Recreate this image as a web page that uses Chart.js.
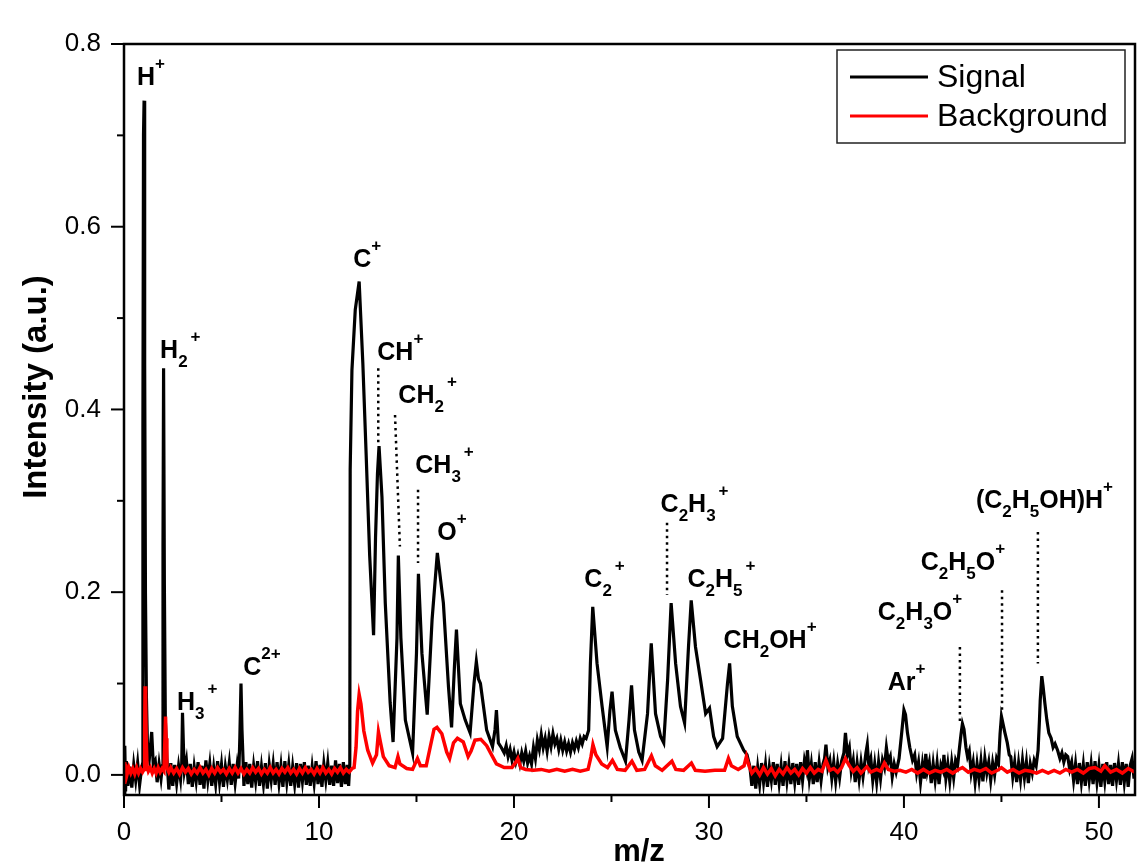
<!DOCTYPE html>
<html>
<head>
<meta charset="utf-8">
<script src="https://cdn.jsdelivr.net/npm/chart.js@4.4.1/dist/chart.umd.min.js"></script>
<style>
  html, body { margin: 0; padding: 0; background: #fff; }
  #wrap { width: 1144px; height: 866px; position: relative; }
</style>
</head>
<body>
<div id="wrap"><canvas id="chart"></canvas></div>
<script>
// ── Data (m/z, intensity) ────────────────────────────────────
const signal = [
  [0,-0.02],[0.04,0.032],[0.08,-0.018],[0.12,0.015],[0.2,-0.012],[0.3,0.009],[0.4,-0.014],[0.5,0.011],[0.6,-0.006],[0.7,0.013],[0.8,-0.011],[0.9,0.007],
  [0.95,0.012],[0.97,0.38],[1.0,0.70],[1.03,0.738],[1.06,0.45],[1.1,0.2],[1.15,0.085],[1.2,0.035],[1.3,0.018],[1.42,0.047],[1.5,0.012],[1.6,0.016],[1.7,-0.008],[1.8,0.012],[1.9,-0.004],
  [1.97,0.01],[2.0,0.25],[2.03,0.445],[2.07,0.21],[2.12,0.06],[2.2,0.018],[2.3,-0.016],[2.4,0.013],[2.5,-0.012],[2.6,0.011],[2.7,-0.009],[2.8,0.01],[2.9,-0.005],
  [2.96,0.012],[3.0,0.068],[3.05,0.03],[3.1,0.004],[3.2,0.016],[3.3,-0.01],[3.4,0.012],[3.5,-0.013],[3.6,0.009],[3.7,-0.007],[3.8,0.014],[3.9,-0.011],[4.0,0.01],[4.1,-0.015],[4.2,0.016],[4.3,-0.006],[4.4,0.012],[4.5,-0.012],[4.6,0.008],[4.7,-0.01],[4.8,0.015],[4.9,-0.008],[5.0,0.011],[5.1,-0.013],[5.2,0.009],[5.3,-0.005],[5.4,0.013],[5.5,-0.011],[5.6,0.012],[5.7,-0.009],[5.8,0.01],
  [5.88,-0.004],[5.94,0.04],[6.0,0.1],[6.05,0.05],[6.1,0.02],[6.15,-0.012],[6.25,0.014],[6.35,-0.01],[6.45,0.012],[6.55,-0.014],[6.65,0.01],[6.75,-0.007],[6.85,0.015],[6.95,-0.012],[7.05,0.009],[7.15,-0.01],[7.25,0.013],[7.35,-0.015],[7.45,0.011],[7.55,-0.006],[7.65,0.012],[7.75,-0.011],[7.85,0.014],[7.95,-0.009],[8.05,0.01],[8.15,-0.013],[8.25,0.015],[8.35,-0.008],[8.45,0.011],[8.55,-0.012],[8.65,0.009],[8.75,-0.01],[8.85,0.013],[8.95,-0.014],[9.05,0.012],[9.15,-0.007],[9.25,0.014],[9.35,-0.011],[9.45,0.01],[9.55,-0.012],[9.65,0.009],[9.75,-0.009],[9.85,0.015],[9.95,-0.01],[10.05,0.011],[10.15,-0.013],[10.25,0.012],[10.35,-0.006],[10.45,0.013],[10.55,-0.011],[10.65,0.01],[10.75,-0.012],[10.85,0.016],[10.95,-0.009],[11.05,0.012],[11.15,-0.013],[11.25,0.014],[11.35,-0.01],[11.45,0.011],[11.52,-0.012],
  [11.58,0.012],[11.6,0.334],[11.69,0.443],[11.86,0.509],[12.06,0.54],[12.25,0.45],[12.42,0.35],[12.6,0.24],[12.8,0.153],[12.9,0.26],[13.0,0.33],[13.08,0.36],[13.23,0.304],[13.4,0.188],[13.65,0.079],[13.8,0.036],[14.0,0.15],[14.07,0.24],[14.2,0.15],[14.43,0.06],[14.8,0.024],[15.0,0.133],[15.1,0.22],[15.28,0.133],[15.55,0.066],[15.8,0.17],[16.07,0.243],[16.38,0.188],[16.64,0.097],[16.8,0.052],[16.95,0.12],[17.05,0.159],[17.25,0.078],[17.5,0.06],[17.75,0.046],[17.95,0.1],[18.07,0.124],[18.18,0.105],[18.28,0.1],[18.6,0.049],[18.9,0.031],[19.03,0.05],[19.1,0.071],[19.2,0.035],[19.35,0.03],
  [19.5,0.024],[19.6,0.032],[19.7,0.02],[19.8,0.028],[19.9,0.016],[20.0,0.025],[20.1,0.014],[20.2,0.022],[20.3,0.012],[20.4,0.024],[20.5,0.015],[20.6,0.026],[20.7,0.013],[20.8,0.021],[20.9,0.012],[21.0,0.03],[21.1,0.018],[21.2,0.038],[21.3,0.028],[21.4,0.044],[21.5,0.03],[21.6,0.04],[21.7,0.026],[21.8,0.042],[21.9,0.031],[22.0,0.045],[22.1,0.034],[22.2,0.04],[22.3,0.028],[22.4,0.038],[22.5,0.027],[22.6,0.036],[22.7,0.026],[22.8,0.034],[22.9,0.025],[23.0,0.035],[23.1,0.028],[23.2,0.037],[23.3,0.03],[23.4,0.04],[23.5,0.034],[23.6,0.042],[23.7,0.04],
  [23.83,0.049],[23.92,0.122],[24.04,0.184],[24.26,0.122],[24.52,0.075],[24.78,0.031],[24.92,0.07],[25.03,0.091],[25.2,0.049],[25.45,0.03],[25.72,0.015],[25.9,0.06],[26.03,0.098],[26.18,0.049],[26.4,0.025],[26.57,0.016],[26.85,0.067],[27.04,0.144],[27.26,0.067],[27.52,0.042],[27.68,0.035],[27.88,0.104],[28.06,0.188],[28.29,0.122],[28.54,0.075],[28.75,0.057],[28.95,0.14],[29.09,0.191],[29.31,0.14],[29.57,0.104],[29.83,0.067],[30.03,0.073],[30.24,0.042],[30.42,0.031],[30.7,0.04],[30.95,0.1],[31.06,0.122],[31.2,0.075],[31.45,0.042],[31.78,0.027],[31.95,0.022],[32.1,0.009],
  [32.2,-0.012],[32.3,0.01],[32.4,-0.015],[32.5,0.008],[32.6,-0.01],[32.7,0.013],[32.8,-0.008],[32.9,0.011],[33.0,-0.013],[33.1,0.009],[33.2,-0.006],[33.3,0.014],[33.4,-0.011],[33.5,0.012],[33.6,-0.009],[33.7,0.01],[33.8,-0.012],[33.9,0.015],[34.0,-0.007],[34.1,0.011],[34.2,-0.01],[34.3,0.013],[34.4,-0.008],[34.5,0.012],[34.6,-0.011],[34.7,0.014],[34.8,-0.006],[34.9,0.016],
  [35.0,0.006],[35.05,0.027],[35.15,-0.004],[35.25,0.012],[35.35,-0.01],[35.45,0.014],[35.55,-0.008],[35.65,0.013],[35.75,-0.006],[35.85,0.012],
  [35.93,0.018],[36.0,0.033],[36.1,0.008],[36.2,0.016],[36.3,-0.004],[36.4,0.014],[36.5,-0.007],[36.6,0.012],[36.7,-0.003],[36.8,0.015],
  [36.92,0.024],[37.0,0.046],[37.1,0.022],[37.2,0.03],[37.3,0.004],[37.4,0.016],[37.5,-0.008],[37.6,0.013],[37.7,-0.005],[37.8,0.014],[37.9,-0.002],
  [38.05,0.024],[38.12,0.033],[38.2,0.01],[38.3,0.018],[38.4,-0.006],[38.5,0.012],[38.6,-0.008],[38.7,0.014],[38.8,-0.004],[38.9,0.016],[39.0,0.008],
  [39.1,0.03],[39.2,0.014],[39.3,0.02],[39.4,-0.002],[39.5,0.012],[39.6,0.003],[39.75,0.018],[39.88,0.045],[40.0,0.071],[40.08,0.066],[40.18,0.046],[40.3,0.03],[40.44,0.016],[40.55,0.022],[40.65,0.002],[40.75,0.014],[40.85,-0.008],[40.95,0.012],[41.05,-0.004],[41.12,0.023],[41.2,0.004],[41.3,0.014],[41.4,-0.009],[41.5,0.012],[41.6,-0.006],[41.7,0.013],[41.8,-0.01],[41.9,0.011],[42.0,0.005],[42.05,0.022],[42.15,-0.004],[42.25,0.012],[42.35,-0.007],[42.45,0.014],[42.55,-0.003],[42.65,0.016],[42.75,0.01],[42.85,0.03],[42.93,0.045],[43.0,0.056],[43.08,0.05],[43.18,0.03],[43.26,0.02],[43.35,0.026],[43.45,0.002],[43.55,0.014],[43.65,-0.008],[43.75,0.012],[43.85,-0.005],[43.95,0.015],[44.05,-0.007],[44.15,0.018],[44.25,0.002],[44.35,0.014],[44.45,-0.006],[44.55,0.013],[44.65,0.0],[44.75,0.018],[44.85,0.012],[44.93,0.045],[45.0,0.064],[45.06,0.058],[45.18,0.046],[45.3,0.035],[45.4,0.022],[45.48,0.02],[45.58,-0.002],[45.68,0.014],[45.78,-0.008],[45.88,0.013],[45.98,-0.005],[46.08,0.016],[46.18,-0.003],[46.28,0.014],[46.38,-0.009],[46.48,0.012],[46.58,0.002],[46.68,0.016],[46.78,0.01],[46.88,0.027],[46.95,0.06],[46.99,0.082],[47.07,0.108],[47.13,0.098],[47.23,0.078],[47.33,0.06],[47.43,0.046],[47.55,0.04],[47.65,0.03],[47.75,0.034],[47.88,0.027],[48.0,0.018],[48.1,0.024],[48.2,0.014],[48.3,0.022],[48.4,0.02],[48.5,0.006],[48.6,0.014],[48.7,-0.006],[48.8,0.012],[48.9,-0.01],[49.0,0.013],[49.1,-0.008],[49.2,0.011],[49.3,-0.012],[49.4,0.014],[49.5,-0.006],[49.6,0.012],[49.7,-0.01],[49.8,0.015],[49.9,-0.008],[50.0,0.01],[50.1,-0.013],[50.2,0.012],[50.3,-0.007],[50.4,0.014],[50.5,-0.01],[50.6,0.011],[50.7,-0.012],[50.8,0.013],[50.9,-0.006],[51.0,0.012],[51.1,-0.011],[51.2,0.014],[51.3,-0.008],[51.4,0.012],[51.5,-0.013],[51.6,0.01],[51.7,0.018],[51.8,-0.004],[51.85,0.015]
];

const background = [
  [0,0.014],[0.04,-0.01],[0.08,0.012],[0.15,0.0],[0.25,0.008],[0.35,0.002],[0.45,0.007],[0.55,0.001],[0.65,0.008],[0.75,0.002],[0.85,0.007],[0.95,0.003],
  [1.03,0.006],[1.06,0.05],[1.08,0.097],[1.11,0.08],[1.14,0.04],[1.18,0.01],[1.25,0.004],[1.35,0.008],[1.45,0.002],[1.55,0.007],[1.65,0.002],[1.75,0.008],[1.85,0.003],[1.95,0.007],
  [2.05,0.004],[2.1,0.04],[2.13,0.064],[2.16,0.04],[2.2,0.008],[2.3,0.003],
  [2.4,0.008],[2.55,0.002],[2.7,0.007],[2.85,0.001],[3.0,0.008],[3.15,0.003],[3.3,0.007],[3.45,0.001],[3.6,0.006],[3.75,0.002],[3.9,0.008],[4.05,0.002],[4.2,0.006],[4.35,0.0],[4.5,0.007],[4.65,0.002],[4.8,0.008],[4.95,0.003],[5.1,0.006],[5.25,0.001],[5.4,0.007],[5.55,0.002],[5.7,0.008],[5.85,0.002],[6.0,0.007],[6.15,0.001],[6.3,0.006],[6.45,0.002],[6.6,0.008],[6.75,0.003],[6.9,0.007],[7.05,0.001],[7.2,0.006],[7.35,0.002],[7.5,0.008],[7.65,0.002],[7.8,0.006],[7.95,0.001],[8.1,0.007],[8.25,0.003],[8.4,0.008],[8.55,0.002],[8.7,0.006],[8.85,0.001],[9.0,0.007],[9.15,0.002],[9.3,0.008],[9.45,0.003],[9.6,0.006],[9.75,0.001],[9.9,0.007],[10.05,0.002],[10.2,0.008],[10.35,0.002],[10.5,0.006],[10.65,0.001],[10.8,0.007],[10.95,0.003],[11.1,0.008],[11.25,0.002],[11.4,0.006],[11.55,0.003],[11.7,0.007],
  [11.8,0.008],[11.9,0.03],[11.98,0.07],[12.06,0.088],[12.15,0.078],[12.3,0.048],[12.5,0.027],[12.75,0.013],[12.95,0.022],[13.05,0.047],[13.15,0.036],[13.3,0.02],[13.6,0.01],[13.9,0.008],[14.05,0.02],[14.15,0.012],[14.5,0.007],[14.8,0.006],[15.05,0.018],[15.2,0.01],[15.5,0.01],[15.7,0.03],[15.9,0.05],[16.05,0.052],[16.3,0.045],[16.55,0.025],[16.7,0.018],[16.9,0.035],[17.1,0.04],[17.4,0.036],[17.65,0.02],[17.8,0.026],[18.0,0.038],[18.3,0.039],[18.6,0.032],[18.9,0.02],[19.1,0.012],[19.5,0.008],[19.9,0.008],[20.1,0.014],[20.2,0.018],[20.35,0.008],[20.6,0.006],
  [21.0,0.005],[21.4,0.006],[21.8,0.004],[22.2,0.006],[22.6,0.004],[23.0,0.006],[23.4,0.004],[23.8,0.006],[23.95,0.02],[24.05,0.033],[24.2,0.022],[24.5,0.012],[24.8,0.008],[25.05,0.016],[25.3,0.006],[25.7,0.005],[26.05,0.015],[26.3,0.005],[26.7,0.006],[27.05,0.021],[27.25,0.01],[27.6,0.005],[28.1,0.015],[28.3,0.006],[28.7,0.005],[29.1,0.013],[29.3,0.005],[29.8,0.004],[30.3,0.005],[30.8,0.005],[31.0,0.018],[31.15,0.01],[31.5,0.006],[31.8,0.01],[31.92,0.02],[32.05,0.01],[32.2,0.002],
  [32.4,0.007],[32.6,0.0],[32.8,0.008],[33.0,0.001],[33.2,0.007],[33.4,-0.001],[33.6,0.006],[33.8,0.001],[34.0,0.008],[34.2,0.002],[34.4,0.006],[34.6,0.0],[34.8,0.007],[35.0,0.002],[35.2,0.008],[35.4,0.002],[35.6,0.006],[35.8,0.004],[36.0,0.016],[36.2,0.005],[36.4,0.007],[36.6,0.003],[36.8,0.008],[37.0,0.018],[37.2,0.01],[37.4,0.004],[37.6,0.008],[37.8,0.002],[38.1,0.009],[38.3,0.003],[38.6,0.006],[38.8,0.004],[39.0,0.013],[39.2,0.006],[39.5,0.004],[39.8,0.005],
  [40.1,0.003],[40.4,0.006],[40.7,0.002],[41.0,0.006],[41.3,0.002],[41.6,0.005],[41.9,0.003],[42.2,0.006],[42.5,0.002],[42.8,0.006],[43.0,0.008],[43.3,0.003],[43.6,0.006],[43.9,0.004],[44.2,0.007],[44.5,0.002],[44.8,0.005],[45.0,0.008],[45.3,0.003],[45.6,0.006],[45.9,0.002],[46.2,0.005],[46.5,0.004],[46.8,0.002],[47.1,0.005],[47.4,0.002],[47.7,0.005],[48.0,0.002],[48.3,0.006],[48.6,0.003],[48.9,0.006],[49.2,0.002],[49.5,0.007],[49.8,0.008],[50.1,0.004],[50.3,0.01],[50.6,0.003],[50.9,0.006],[51.2,0.002],[51.5,0.007],[51.85,0.003]
];

const xMajor = [0, 10, 20, 30, 40, 50];
const xMinor = [5, 15, 25, 35, 45];
const yMajor = [0, 0.2, 0.4, 0.6, 0.8];
const yMinor = [0.1, 0.3, 0.5, 0.7];

// ── Peak annotations: text, m/z, intensity (text baseline) ──
const peakLabels = [
  ['H^+',          0.67, 0.755],
  ['H_2^+',        1.85, 0.456],
  ['H_3^+',        2.72, 0.071],
  ['C^{2+}',       6.11, 0.109],
  ['C^+',         11.76, 0.556],
  ['CH^+',        12.99, 0.454],
  ['CH_2^+',      14.07, 0.407],
  ['CH_3^+',      14.94, 0.330],
  ['O^+',         16.07, 0.257],
  ['C_2^+',       23.61, 0.206],
  ['C_2H_3^+',    27.52, 0.288],
  ['C_2H_5^+',    28.90, 0.206],
  ['CH_2OH^+',    30.75, 0.139],
  ['Ar^+',        39.17, 0.093],
  ['C_2H_3O^+',   38.66, 0.170],
  ['C_2H_5O^+',   40.86, 0.224],
  ['(C_2H_5OH)H^+', 43.69, 0.292]
];

// dotted leaders: x1, y1, x2, y2
const leaders = [
  [13.04, 0.445, 13.04, 0.363],
  [13.90, 0.394, 14.15, 0.250],
  [15.08, 0.312, 15.08, 0.232],
  [27.85, 0.276, 27.85, 0.197],
  [42.87, 0.140, 42.87, 0.058],
  [45.03, 0.202, 45.03, 0.068],
  [46.87, 0.266, 46.87, 0.122]
];

const FONT = '"Liberation Sans", Arial, sans-serif';

// ── Rich text with sub/superscripts ──────────────
function parseRich(str) {
  const out = [];
  let i = 0;
  while (i < str.length) {
    const c = str[i];
    if (c === '_' || c === '^') {
      let t;
      if (str[i + 1] === '{') {
        const j = str.indexOf('}', i);
        t = str.slice(i + 2, j); i = j + 1;
      } else { t = str[i + 1]; i += 2; }
      out.push([t, c === '_' ? 'sub' : 'sup']);
    } else {
      let j = i;
      while (j < str.length && str[j] !== '_' && str[j] !== '^') j++;
      out.push([str.slice(i, j), 'n']); i = j;
    }
  }
  return out;
}

function drawRich(ctx, str, x, y) {
  let cx = x, prev = 'n';
  ctx.textAlign = 'left';
  ctx.textBaseline = 'alphabetic';
  parseRich(str).forEach(([t, mode]) => {
    if (mode === 'n') {
      ctx.font = 'bold 25px ' + FONT;
      ctx.fillText(t, cx, y);
    } else {
      ctx.font = 'bold 17px ' + FONT;
      if (mode === 'sup' && prev === 'sub') cx += 3;
      ctx.fillText(t, cx, mode === 'sub' ? y + 9 : y - 16);
    }
    cx += ctx.measureText(t).width;
    prev = mode;
  });
}

// ── Frame, tick marks, annotations, legend, titles ──
const decor = {
  id: 'decor',
  afterDatasetsDraw(chart) {
    const { ctx, chartArea: a, scales: { x, y } } = chart;
    ctx.save();
    ctx.strokeStyle = '#000';
    ctx.fillStyle = '#000';

    // leaders
    ctx.lineWidth = 2.5;
    ctx.setLineDash([2.5, 4]);
    leaders.forEach(([x1, y1, x2, y2]) => {
      ctx.beginPath();
      ctx.moveTo(x.getPixelForValue(x1), y.getPixelForValue(y1));
      ctx.lineTo(x.getPixelForValue(x2), y.getPixelForValue(y2));
      ctx.stroke();
    });
    ctx.setLineDash([]);

    // peak labels
    peakLabels.forEach(([t, mz, v]) => drawRich(ctx, t, x.getPixelForValue(mz), y.getPixelForValue(v)));

    // frame
    ctx.lineWidth = 2.5;
    ctx.strokeRect(a.left, a.top, a.right - a.left, a.bottom - a.top);

    // ticks
    const tick = (x1, y1, x2, y2) => { ctx.beginPath(); ctx.moveTo(x1, y1); ctx.lineTo(x2, y2); ctx.stroke(); };
    ctx.lineWidth = 2;
    yMajor.forEach(v => { const p = y.getPixelForValue(v); tick(a.left - 13, p, a.left, p); });
    yMinor.forEach(v => { const p = y.getPixelForValue(v); tick(a.left - 7, p, a.left, p); });
    xMajor.forEach(v => { const p = x.getPixelForValue(v); tick(p, a.bottom, p, a.bottom + 13); });
    xMinor.forEach(v => { const p = x.getPixelForValue(v); tick(p, a.bottom, p, a.bottom + 7); });

    // legend
    ctx.fillStyle = '#fff';
    ctx.fillRect(837, 50, 288, 93);
    ctx.strokeStyle = '#222';
    ctx.lineWidth = 1.5;
    ctx.strokeRect(837, 50, 288, 93);
    [['Signal', '#000', 77], ['Background', '#ff0000', 116]].forEach(([t, c, ly]) => {
      ctx.strokeStyle = c;
      ctx.lineWidth = 3;
      ctx.beginPath(); ctx.moveTo(850, ly); ctx.lineTo(928, ly); ctx.stroke();
      ctx.fillStyle = '#000';
      ctx.font = '32px ' + FONT;
      ctx.textAlign = 'left';
      ctx.textBaseline = 'middle';
      ctx.fillText(t, 937, ly + 1);
    });

    // axis titles
    ctx.fillStyle = '#000';
    ctx.font = 'bold 31px ' + FONT;
    ctx.textAlign = 'center';
    ctx.textBaseline = 'top';
    ctx.fillText('m/z', 639, 837);
    ctx.font = 'bold 33px ' + FONT;
    ctx.translate(37, 387);
    ctx.rotate(-Math.PI / 2);
    ctx.textBaseline = 'middle';
    ctx.fillText('Intensity (a.u.)', 0, 0);
    ctx.restore();
  }
};

// ── Chart ──────────────────────────────────────
const toXY = pts => pts.map(([mz, v]) => ({ x: mz, y: v }));

new Chart(document.getElementById('chart'), {
  type: 'line',
  data: {
    datasets: [
      { label: 'Background', data: toXY(background), borderColor: '#ff0000', borderWidth: 3.5, pointRadius: 0, tension: 0 },
      { label: 'Signal',     data: toXY(signal),     borderColor: '#000000', borderWidth: 3.2, pointRadius: 0, tension: 0 }
    ]
  },
  options: {
    responsive: true,
    maintainAspectRatio: false,
    animation: false,
    layout: { padding: { top: 44, right: 9, left: 0, bottom: 0 } },
    plugins: { legend: { display: false }, tooltip: { enabled: false } },
    scales: {
      x: {
        type: 'linear', min: 0, max: 51.85,
        afterFit: s => { s.height = 71; },
        afterBuildTicks: s => { s.ticks = xMajor.map(v => ({ value: v })); },
        grid: { display: false, drawTicks: false },
        border: { display: false },
        ticks: { color: '#000', padding: 22, maxRotation: 0, font: { family: FONT, size: 26 }, callback: v => String(v) }
      },
      y: {
        min: -0.022, max: 0.8,
        afterFit: s => { s.width = 124; },
        afterBuildTicks: s => { s.ticks = yMajor.map(v => ({ value: v })); },
        grid: { display: false, drawTicks: false },
        border: { display: false },
        ticks: { color: '#000', padding: 23, font: { family: FONT, size: 26 }, callback: v => v.toFixed(1) }
      }
    }
  },
  plugins: [decor]
});
</script>
</body>
</html>
